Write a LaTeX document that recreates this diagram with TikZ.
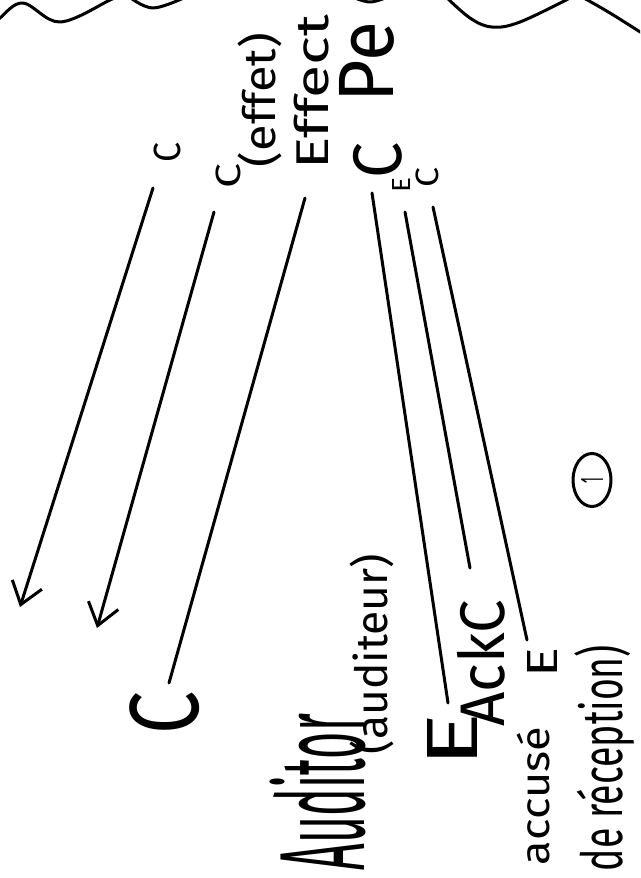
\documentclass[tikz,border=0pt]{standalone}
\usepackage{fontspec}
\setmainfont{Fira Sans}
\usetikzlibrary{arrows.meta,shapes.geometric}
\newcommand{\fitbox}[3]{\resizebox*{#1pt}{#2pt}{#3}}
\begin{document}
\begin{tikzpicture}[x=1pt,y=-1pt,
  pen/.style={line width=3pt, line cap=round, line join=round},
  arr/.style={pen,-{Straight Barb[length=21pt,width=31pt]}},
  lbl/.style={inner sep=0pt, outer sep=0pt, rotate=90}]
\useasboundingbox (0,0) rectangle (640,878);
\clip (0,0) rectangle (640,878);
\fill[white] (0,0) rectangle (640,878);

% cloud edge at the top
\draw[pen] plot[smooth, tension=0.6] coordinates {(-8,26) (0,18) (23,3) (60,22) (110,0) (118,-4)};
\draw[pen] plot[smooth, tension=0.6] coordinates {(128,-4) (153,8) (188,-4)};
\draw[pen] plot[smooth, tension=0.6] coordinates {(350,-4) (370,2) (390,-4)};
\draw[pen] plot[smooth, tension=0.6] coordinates {(445,-4) (470,18) (492,27) (520,22) (572,-3)};
\draw[pen] plot[smooth, tension=0.6] coordinates {(582,-3) (610,13) (648,37)};

% labels at the top
\node[lbl] (c1) at (167,152) {\fitbox{20}{27}{C}};
\node[lbl] (c2) at (228,176) {\fitbox{25}{25}{C}};
\node[lbl] (effet) at (260,100) {\fitbox{134}{44}{(effet)}};
\node[lbl] (effect) at (312,92) {\fitbox{155}{35}{Effect}};
\node[lbl] (pe) at (367,62) {\fitbox{80}{55}{Pe}};
\node[lbl] (cbig) at (378,160) {\fitbox{36}{49}{C}};
\node[lbl] (esub) at (401,185) {\fitbox{15}{18}{E}};
\node[lbl] (csub) at (427,177) {\fitbox{20}{23}{C}};

% labels at the bottom
\node[lbl] (cbot) at (165,713) {\fitbox{43}{70}{C}};
\node[lbl] (auditor) at (318,792) {\fitbox{156}{96}{Auditor}};
\node[lbl] (auditeur) at (372,654) {\fitbox{200}{44}{(auditeur)}};
\node[lbl] (ebig) at (452,740) {\fitbox{55}{50}{E}};
\node[lbl] (ackc) at (481,663) {\fitbox{127}{48}{AckC}};
\node[lbl] (esmall) at (542,662) {\fitbox{30}{30}{E}};
\node[lbl] (accuse) at (533,796) {\fitbox{138}{33}{accusé}};
\node[lbl, anchor=east] (recep) at (605,645) {\fitbox{226}{60}{de réception)}};

% circled one
\node[lbl, draw, ellipse, line width=3pt, minimum width=53pt, minimum height=38pt] (one) at (592,480) {\fitbox{6}{22}{1}};

% connector end points
\coordinate (s1) at (153,188);  \coordinate (t1) at (20,607);
\coordinate (s2) at (214,212);  \coordinate (t2) at (97,628);
\coordinate (s3) at (305,198);  \coordinate (t3) at (169,683);
\coordinate (sA) at (372,193);  \coordinate (tA) at (448,703);
\coordinate (sB) at (405,212);  \coordinate (tB) at (470,568);
\coordinate (sC) at (433,207);  \coordinate (tC) at (527,640);

\draw[arr] (s1) -- (t1);
\draw[arr] (s2) -- (t2);
\draw[pen] (s3) -- (t3);
\draw[pen] (sA) -- (tA);
\draw[pen] (sB) -- (tB);
\draw[pen] (sC) -- (tC);
\end{tikzpicture}
\end{document}
